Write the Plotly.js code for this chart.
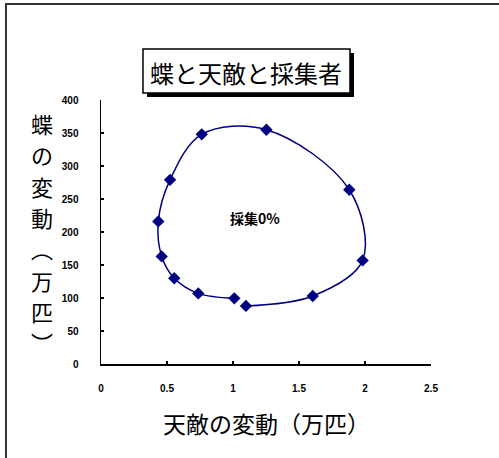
<!DOCTYPE html>
<html>
<head>
<meta charset="utf-8">
<script src="https://cdn.plot.ly/plotly-3.0.1.min.js"></script>
<style>html,body{margin:0;padding:0;background:#fff;}#chart{width:499px;height:458px;}</style>
</head>
<body>
<div id="chart"></div>
<script>
// Data (predator x, prey y), traversed clockwise
const predator = [1.01, 0.737, 0.555, 0.46, 0.434, 0.523, 0.763, 1.253, 1.881, 1.982, 1.604, 1.098];
const prey     = [99.5, 107, 130, 163, 216, 279, 348, 355, 264, 157, 103, 88];
const chartTitle = "蝶と天敵と採集者";
const xTitle = "天敵の変動（万匹）";
const yTitleChars = ["蝶","の","変","動","︵","万","匹","︶"];
const noteText = "採集0%";
const noteX = 1.167, noteY = 221;

const jp = '"Noto Sans CJK JP", "Noto Sans", sans-serif';
const L = 101, R = 68, T = 100, B = 94;
const PW = 499 - L - R, PH = 458 - T - B;
const px = v => (v - L) / PW;
const py = v => (458 - B - v) / PH;

const trace = {
  x: predator, y: prey, type: 'scatter', mode: 'lines+markers',
  line: {color: '#000080', width: 1.5, shape: 'spline', smoothing: 1},
  marker: {symbol: 'diamond', size: 9.5, color: '#000080'},
  cliponaxis: false, hoverinfo: 'skip'
};

const yTitleAnns = yTitleChars.map((c, i) => ({
  text: c, xref: 'paper', yref: 'paper', x: px(42), y: py(123 + i * 31.3),
  xanchor: 'center', yanchor: 'middle', showarrow: false,
  font: {family: jp, size: 22, color: '#000'}
}));

const layout = {
  width: 499, height: 458,
  margin: {l: L, r: R, t: T, b: B},
  paper_bgcolor: '#fff', plot_bgcolor: '#fff',
  showlegend: false,
  xaxis: {
    range: [0, 2.5], dtick: 0.5, tick0: 0, showgrid: false, zeroline: false,
    showline: true, linecolor: '#000', linewidth: 1.5,
    ticks: 'inside', ticklen: 3, tickcolor: '#000', tickwidth: 1.5,
    ticklabelstandoff: 14,
    tickfont: {family: 'Liberation Sans, Arial, sans-serif', size: 10, color: '#000', weight: 'bold'}
  },
  yaxis: {
    range: [0, 400], dtick: 50, tick0: 0, showgrid: false, zeroline: false,
    showline: true, linecolor: '#000', linewidth: 1.5,
    ticks: 'inside', ticklen: 3, tickcolor: '#000', tickwidth: 1.5,
    ticklabelstandoff: 19,
    tickfont: {family: 'Liberation Sans, Arial, sans-serif', size: 10, color: '#000', weight: 'bold'}
  },
  shapes: [
    {type: 'path', xref: 'paper', yref: 'paper',
     path: `M ${px(6)} ${py(470)} L ${px(6)} ${py(4)} L ${px(510)} ${py(4)}`,
     line: {color: '#333', width: 2}},
    {type: 'rect', xref: 'paper', yref: 'paper',
     x0: px(147), x1: px(354), y0: py(97), y1: py(53),
     fillcolor: '#000', line: {width: 0}},
    {type: 'rect', xref: 'paper', yref: 'paper',
     x0: px(143), x1: px(350), y0: py(93), y1: py(49),
     fillcolor: '#fff', line: {color: '#000', width: 1.5}}
  ],
  annotations: [
    {text: chartTitle, xref: 'paper', yref: 'paper', x: px(246), y: py(72),
     xanchor: 'center', yanchor: 'middle', showarrow: false,
     font: {family: jp, size: 24, color: '#000'}},
    {text: xTitle, xref: 'paper', yref: 'paper', x: px(266), y: py(423),
     xanchor: 'center', yanchor: 'middle', showarrow: false,
     font: {family: jp, size: 23, color: '#000'}},
    ...yTitleAnns,
    {text: noteText, xref: 'x', yref: 'y', x: noteX, y: noteY,
     xanchor: 'center', yanchor: 'middle', showarrow: false,
     font: {family: jp, size: 14, color: '#000', weight: 'bold'}}
  ]
};

Plotly.newPlot('chart', [trace], layout, {staticPlot: true, displayModeBar: false});
</script>
</body>
</html>
